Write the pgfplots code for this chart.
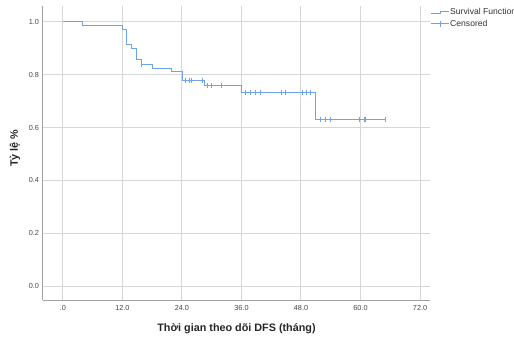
\documentclass[border=0pt]{standalone}
\usepackage{fontspec}
\setmainfont{Liberation Sans}
\usepackage{pgfplots}
\pgfplotsset{compat=1.18}
\definecolor{kmblue}{RGB}{110,162,235}
\definecolor{gridgray}{RGB}{215,215,215}
\definecolor{axgray}{RGB}{160,160,160}
\definecolor{ticktext}{RGB}{70,70,70}
\begin{document}
\begin{tikzpicture}[x=1pt,y=1pt]
\path[use as bounding box] (0,0) rectangle (514,338);
\begin{axis}[
  at={(43pt,38pt)}, anchor=south west,
  scale only axis, width=387pt, height=294pt,
  xmin=-4, xmax=74, ymin=-0.053, ymax=1.06,
  axis lines*=left,
  axis line style={axgray, line width=1pt},
  xtick={0,12,24,36,48,60,72},
  xticklabels={.0,12.0,24.0,36.0,48.0,60.0,72.0},
  ytick={0,0.2,0.4,0.6,0.8,1.0},
  yticklabels={0.0,0.2,0.4,0.6,0.8,1.0},
  major tick length=0pt,
  grid=major,
  major grid style={gridgray, line width=1pt},
  tick label style={font=\fontsize{7.3}{8}\selectfont, text=ticktext},
  xticklabel style={yshift=-1.5pt},
  yticklabel style={xshift=-0.5pt},
  /pgf/number format/assume math mode=true,
  xlabel={Thời gian theo dõi DFS (tháng)},
  ylabel={Tỷ lệ \%},
  label style={font=\fontsize{10.8}{12}\selectfont\bfseries, text=black!85},
  xlabel style={at={(axis description cs:0.5,-0.0986)}, anchor=center},
  ylabel style={at={(axis description cs:-0.0724,0.517)}, anchor=center},
  legend style={at={(axis description cs:1,0.995)}, anchor=north west,
    draw=none, fill=none, font=\fontsize{8.6}{10}\selectfont, text=black!80,
    inner sep=0pt, row sep=1.5pt, nodes={inner sep=1pt}},
  legend cell align=left,
  clip=false,
]
\addplot[const plot, draw=kmblue, line width=1pt,
  legend image code/.code={\draw[draw=kmblue, line width=1pt] (0pt,-1.4pt) -- (10pt,-1.4pt) -- (10pt,1.4pt) -- (18pt,1.4pt);}]
  coordinates {
  (0,1.0) (3.9,0.986) (12.0,0.972) (12.8,0.915) (13.9,0.899) (14.9,0.857)
  (15.9,0.838) (18.1,0.824) (21.9,0.811) (24.1,0.778) (28.5,0.759)
  (36.0,0.733) (50.9,0.631) (65.2,0.631)
  };
\addlegendentry{Survival Function}
\addplot[only marks, mark=|, mark size=2.7pt, draw=kmblue,
  mark options={draw=kmblue, line width=1.1pt},
  legend image code/.code={\draw[draw=kmblue, line width=1pt] (0pt,0pt) -- (18pt,0pt); \draw[draw=kmblue, line width=1.1pt] (10pt,-3pt) -- (10pt,3pt);}]
  coordinates {
  (15.9,0.838)
  (24.8,0.778) (25.5,0.778) (26.0,0.778) (28.1,0.778)
  (29.1,0.759) (30.0,0.759) (32.0,0.759)
  (36.9,0.733) (37.8,0.733) (38.9,0.733) (39.8,0.733) (44.1,0.733) (44.9,0.733)
  (48.3,0.733) (49.1,0.733) (49.9,0.733)
  (51.9,0.631) (52.9,0.631) (53.9,0.631) (59.8,0.631) (60.9,0.631) (65.0,0.631)
  };
\addlegendentry{Censored}
\end{axis}
\end{tikzpicture}
\end{document}
